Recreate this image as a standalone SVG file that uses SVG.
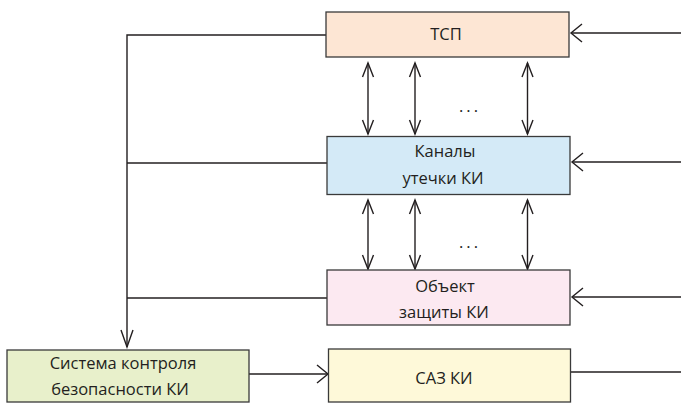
<svg xmlns="http://www.w3.org/2000/svg" width="681" height="404" viewBox="0 0 681 404">
<style>
.box{stroke:#3a3a3a;stroke-width:1.3}
.t{font-family:"Open Sans","Noto Sans",sans-serif;font-size:16.5px;fill:#231f20;text-anchor:middle}
.ln{stroke:#231f20;stroke-width:1.4;fill:none}
</style>
<defs>
<marker id="mh" markerUnits="userSpaceOnUse" viewBox="-12 -10 14 20" refX="0" refY="0" markerWidth="14" markerHeight="20" orient="auto">
<path d="M-11,-9 L0,0 L-11,9" fill="none" stroke="#231f20" stroke-width="1.4"/>
</marker>
<marker id="mv" markerUnits="userSpaceOnUse" viewBox="-15 -7 17 14" refX="0" refY="0" markerWidth="17" markerHeight="14" orient="auto-start-reverse">
<path d="M-14,-5.5 L0,0 L-14,5.5" fill="none" stroke="#231f20" stroke-width="1.4"/>
</marker>
<marker id="md" markerUnits="userSpaceOnUse" viewBox="-18 -7 20 14" refX="0" refY="0" markerWidth="20" markerHeight="14" orient="auto">
<path d="M-17,-6 L0,0 L-17,6" fill="none" stroke="#231f20" stroke-width="1.4"/>
</marker>
</defs>
<g id="connectors">
<polyline class="ln" points="326,35 127,35 127,347" marker-end="url(#md)"/>
<line class="ln" x1="127" y1="163" x2="327" y2="163"/>
<line class="ln" x1="127" y1="298" x2="327" y2="298"/>
<line class="ln" x1="681" y1="33" x2="571" y2="33" marker-end="url(#mh)"/>
<line class="ln" x1="681" y1="162" x2="572" y2="162" marker-end="url(#mh)"/>
<line class="ln" x1="681" y1="297" x2="572" y2="297" marker-end="url(#mh)"/>
<line class="ln" x1="249" y1="374" x2="328" y2="374" marker-end="url(#mh)"/>
<line class="ln" x1="571" y1="372" x2="681" y2="372"/>
<line class="ln" x1="368" y1="63" x2="368" y2="134" marker-start="url(#mv)" marker-end="url(#mv)"/>
<line class="ln" x1="415" y1="63" x2="415" y2="134" marker-start="url(#mv)" marker-end="url(#mv)"/>
<line class="ln" x1="527.5" y1="63" x2="527.5" y2="134" marker-start="url(#mv)" marker-end="url(#mv)"/>
<line class="ln" x1="368" y1="200" x2="368" y2="269" marker-start="url(#mv)" marker-end="url(#mv)"/>
<line class="ln" x1="415" y1="200" x2="415" y2="269" marker-start="url(#mv)" marker-end="url(#mv)"/>
<line class="ln" x1="527.5" y1="200" x2="527.5" y2="269" marker-start="url(#mv)" marker-end="url(#mv)"/>
<text class="t" x="470" y="112" letter-spacing="3">...</text>
<text class="t" x="470" y="248" letter-spacing="3">...</text>
</g>
<g id="tsp">
<rect class="box" x="326" y="12" width="243" height="45" fill="#fde6d4"/>
<text class="t" x="446" y="40">ТСП</text>
</g>
<g id="kanaly">
<rect class="box" x="327" y="136.5" width="243" height="58" fill="#d4eaf7"/>
<text class="t" x="445" y="157">Каналы</text>
<text class="t" x="443" y="184">утечки КИ</text>
</g>
<g id="obekt">
<rect class="box" x="327" y="270" width="243" height="55" fill="#fce9f1"/>
<text class="t" x="445" y="291.5">Объект</text>
<text class="t" x="444" y="317.5">защиты КИ</text>
</g>
<g id="sistema">
<rect class="box" x="7" y="350" width="242" height="52" fill="#e8f0cb"/>
<text class="t" x="123" y="369">Система контроля</text>
<text class="t" x="120" y="395">безопасности КИ</text>
</g>
<g id="saz">
<rect class="box" x="328.5" y="349" width="242" height="53" fill="#fef9d9"/>
<text class="t" x="444" y="384">САЗ КИ</text>
</g>
</svg>
